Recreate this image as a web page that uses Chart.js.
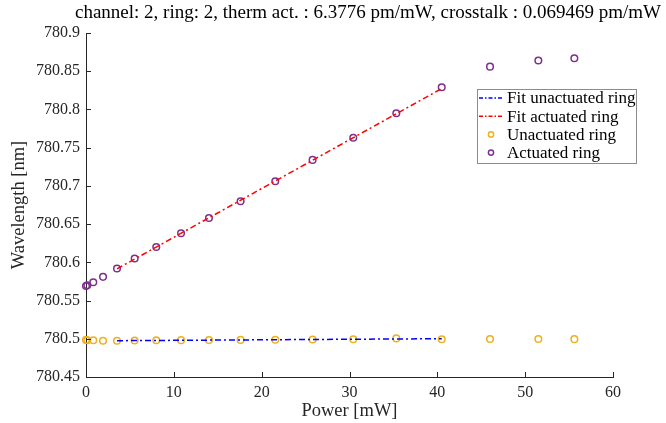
<!DOCTYPE html>
<html lang="en">
<head>
    <meta charset="UTF-8">
    <title>Ring thermal actuation</title>
    <script src="https://cdn.jsdelivr.net/npm/chart.js@4.4.1/dist/chart.umd.min.js"></script>
    <style>
        html, body { margin: 0; padding: 0; background: #ffffff; }
        #wrap { width: 666px; height: 423px; position: relative; }
    </style>
</head>
<body>
<div id="wrap"><canvas id="ringChart" width="666" height="423"></canvas></div>
<script>
    // power sweep [mW]
    const power = [0, 0.15, 0.83, 1.94, 3.53, 5.54, 8.0, 10.82, 14.0, 17.6, 21.55, 25.8, 30.43, 35.33, 40.5, 46.0, 51.5, 55.6];
    // resonance wavelength [nm]
    const actuated = [780.569, 780.570, 780.574, 780.581, 780.592, 780.605, 780.620, 780.638, 780.658, 780.680,
                      780.706, 780.734, 780.763, 780.795, 780.829, 780.856, 780.864, 780.867];
    const unactuated = [780.4985, 780.4980, 780.4980, 780.4975, 780.4975, 780.4978, 780.4980, 780.4982, 780.4983, 780.4985,
                        780.4988, 780.4990, 780.4993, 780.5005, 780.4993, 780.4998, 780.4998, 780.4995];
    // linear fits, end points only
    const fitPower = [3.53, 40.5];
    const fitActuated = [780.5915, 780.8273];
    const fitUnactuated = [780.4975, 780.5001];

    const xTicks = [0, 10, 20, 30, 40, 50, 60];
    const yTicks = [780.45, 780.5, 780.55, 780.6, 780.65, 780.7, 780.75, 780.8, 780.85, 780.9];

    const titleText = 'channel: 2, ring: 2, therm act. : 6.3776 pm/mW, crosstalk : 0.069469 pm/mW';
    const axisColor = '#262626';
    const serif = "'Liberation Serif', 'DejaVu Serif', serif";

    const toPts = (xs, ys) => xs.map((x, i) => ({ x: x, y: ys[i] }));

    // title, inward ticks and the boxed legend, drawn the matlab way
    const matlabLook = {
        id: 'matlabLook',
        afterDraw(chart) {
            const ctx = chart.ctx;
            const area = chart.chartArea;
            const xs = chart.scales.x, ys = chart.scales.y;
            ctx.save();
            ctx.strokeStyle = axisColor;
            ctx.lineWidth = 1;
            ctx.beginPath();
            xTicks.forEach(t => {
                const px = Math.round(xs.getPixelForValue(t)) + 0.5;
                ctx.moveTo(px, area.bottom);
                ctx.lineTo(px, area.bottom - 5);
            });
            yTicks.forEach(t => {
                const py = Math.round(ys.getPixelForValue(t)) + 0.5;
                ctx.moveTo(area.left, py);
                ctx.lineTo(area.left + 5, py);
            });
            ctx.stroke();

            // title
            ctx.fillStyle = '#000000';
            ctx.font = '19px ' + serif;
            ctx.textAlign = 'center';
            ctx.textBaseline = 'middle';
            ctx.fillText(titleText, 368, 13);

            // legend
            const bx = 477.5, by = 89.5, bw = 159, bh = 74;
            ctx.fillStyle = '#ffffff';
            ctx.fillRect(bx, by, bw, bh);
            ctx.strokeStyle = '#8c8c8c';
            ctx.strokeRect(bx, by, bw, bh);
            const rows = [
                { label: 'Fit unactuated ring', kind: 'line', color: '#0000ff' },
                { label: 'Fit actuated ring', kind: 'line', color: '#ff0000' },
                { label: 'Unactuated ring', kind: 'dot', color: '#EDB120' },
                { label: 'Actuated ring', kind: 'dot', color: '#7E2F8E' }
            ];
            ctx.font = '17px ' + serif;
            ctx.textAlign = 'left';
            rows.forEach((r, i) => {
                const ry = 98 + i * 18.2;
                if (r.kind === 'line') {
                    ctx.strokeStyle = r.color;
                    ctx.lineWidth = 1.5;
                    ctx.setLineDash([4, 2, 1.5, 2]);
                    ctx.beginPath();
                    ctx.moveTo(479, ry);
                    ctx.lineTo(504, ry);
                    ctx.stroke();
                    ctx.setLineDash([]);
                } else {
                    ctx.strokeStyle = r.color;
                    ctx.lineWidth = 1.5;
                    ctx.beginPath();
                    ctx.arc(491, ry, 2.6, 0, Math.PI * 2);
                    ctx.stroke();
                }
                ctx.fillStyle = '#000000';
                ctx.fillText(r.label, 507, ry + 1);
            });
            ctx.restore();
        }
    };

    new Chart(document.getElementById('ringChart'), {
        type: 'scatter',
        data: {
            datasets: [
                {
                    label: 'Fit unactuated ring',
                    data: toPts(fitPower, fitUnactuated),
                    showLine: true,
                    borderColor: '#0000ff',
                    borderWidth: 1.5,
                    borderDash: [6, 3, 2, 3],
                    pointRadius: 0
                },
                {
                    label: 'Fit actuated ring',
                    data: toPts(fitPower, fitActuated),
                    showLine: true,
                    borderColor: '#ff0000',
                    borderWidth: 1.5,
                    borderDash: [6, 3, 2, 3],
                    pointRadius: 0
                },
                {
                    label: 'Unactuated ring',
                    data: toPts(power, unactuated),
                    borderColor: '#EDB120',
                    backgroundColor: 'rgba(0,0,0,0)',
                    borderWidth: 1.5,
                    pointRadius: 3.3,
                    clip: false
                },
                {
                    label: 'Actuated ring',
                    data: toPts(power, actuated),
                    borderColor: '#7E2F8E',
                    backgroundColor: 'rgba(0,0,0,0)',
                    borderWidth: 1.5,
                    pointRadius: 3.3,
                    clip: false
                }
            ]
        },
        options: {
            responsive: false,
            animation: false,
            layout: { padding: { top: 33, right: 53, bottom: 0, left: 0 } },
            plugins: {
                legend: { display: false },
                tooltip: { enabled: false }
            },
            scales: {
                x: {
                    type: 'linear',
                    min: 0,
                    max: 60,
                    afterFit: s => { s.height = 46; },
                    afterBuildTicks: s => { s.ticks = xTicks.map(v => ({ value: v })); },
                    grid: { display: false, drawTicks: false },
                    border: { display: true, color: axisColor, width: 1 },
                    ticks: { color: axisColor, padding: 6, font: { family: serif, size: 16 }, maxRotation: 0 },
                    title: { display: true, text: 'Power [mW]', color: axisColor, padding: { top: 0, bottom: 1 }, font: { family: serif, size: 18.5 } }
                },
                y: {
                    type: 'linear',
                    min: 780.45,
                    max: 780.9,
                    afterFit: s => { s.width = 86; },
                    afterBuildTicks: s => { s.ticks = yTicks.map(v => ({ value: v })); },
                    grid: { display: false, drawTicks: false },
                    border: { display: true, color: axisColor, width: 1 },
                    ticks: {
                        color: axisColor,
                        padding: 6,
                        font: { family: serif, size: 16 },
                        callback: v => String(Number(v.toFixed(2)))
                    },
                    title: { display: true, text: 'Wavelength [nm]', color: axisColor, padding: { top: 8, bottom: 0 }, font: { family: serif, size: 18.5 } }
                }
            }
        },
        plugins: [matlabLook]
    });
</script>
</body>
</html>
